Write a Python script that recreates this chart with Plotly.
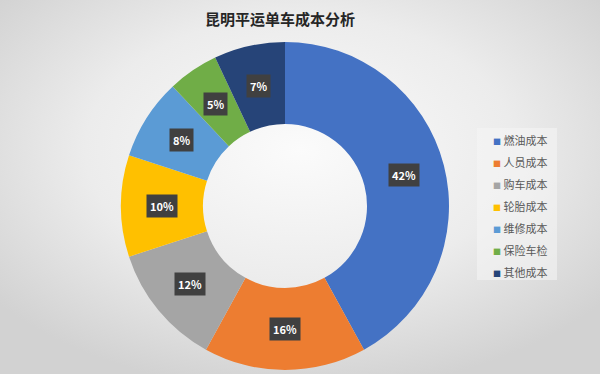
import math
import base64
import plotly.graph_objects as go

categories = ["燃油成本", "人员成本", "购车成本", "轮胎成本", "维修成本", "保险车检", "其他成本"]
values = [42, 16, 12, 10, 8, 5, 7]
colors = ["#4472C4", "#ED7D31", "#A5A5A5", "#FFC000", "#5B9BD5", "#70AD47", "#264478"]
title = "昆明平运单车成本分析"

W, H = 600, 374
cx_px, cy_px, R_px = 285, 206, 164
hole = 0.5
dom_x = [(cx_px - R_px) / W, (cx_px + R_px) / W]
dom_y = [1 - (cy_px + R_px) / H, 1 - (cy_px - R_px) / H]

svg = f'''<svg xmlns="http://www.w3.org/2000/svg" width="{W}" height="{H}">
<defs><radialGradient id="g" cx="50%" cy="40%" r="65%">
<stop offset="0%" stop-color="#fbfbfb"/><stop offset="55%" stop-color="#ececec"/><stop offset="100%" stop-color="#d2d2d2"/>
</radialGradient></defs><rect width="{W}" height="{H}" fill="url(#g)"/></svg>'''
bg_src = "data:image/svg+xml;base64," + base64.b64encode(svg.encode()).decode()

fig = go.Figure()
fig.add_trace(go.Pie(
    labels=categories, values=values, sort=False, direction="clockwise", rotation=0,
    hole=hole, marker=dict(colors=colors, line=dict(width=0)),
    textinfo="none", hoverinfo="label+percent",
    domain=dict(x=dom_x, y=dom_y), showlegend=False,
))

# legend entries (one per category, small square glyph right before the text)
for name, col in zip(categories, colors):
    fig.add_trace(go.Scatter(
        x=[None], y=[None], mode="markers", legendgroup=name,
        name=f"<span style='color:{col};font-size:8px'>■</span> {name}",
        marker=dict(symbol="square", size=1, color="rgba(0,0,0,0)"),
        showlegend=True, hoverinfo="skip",
    ))

# label callouts placed at slice midpoints (derived from the data)
total = sum(values)
r_lab = R_px * (1 + hole) / 2
cum = 0
annotations = []
for v in values:
    mid = (cum + v / 2) / total * 2 * math.pi
    cum += v
    x = (cx_px + r_lab * math.sin(mid)) / W
    y = 1 - (cy_px - r_lab * math.cos(mid)) / H
    annotations.append(dict(
        x=x, y=y, xref="paper", yref="paper", showarrow=False,
        xanchor="center", yanchor="middle",
        text=f"<b>{round(v / total * 100)}%</b>",
        font=dict(family="Noto Sans CJK SC", size=11, color="white"),
        bgcolor="#404040", borderpad=3,
    ))

fig.update_layout(
    width=W, height=H,
    margin=dict(l=0, r=0, t=0, b=0),
    paper_bgcolor="#e6e6e6", plot_bgcolor="rgba(0,0,0,0)",
    xaxis=dict(visible=False), yaxis=dict(visible=False),
    title=dict(text=f"<b>{title}</b>", x=280 / W, xanchor="center", y=1 - 20 / H, yanchor="middle",
               font=dict(family="Noto Sans CJK SC", size=15, color="#262626")),
    legend=dict(x=453 / W, y=1 - 126 / H, xanchor="left", yanchor="top",
                bgcolor="rgba(0,0,0,0)", borderwidth=0, traceorder="grouped", tracegroupgap=3,
                font=dict(family="Noto Sans CJK SC", size=11, color="#595959"),
                itemwidth=30),
    annotations=annotations,
    shapes=[dict(type="rect", xref="paper", yref="paper", x0=477 / W, x1=557 / W,
                 y0=1 - 280 / H, y1=1 - 128 / H, fillcolor="rgba(246,246,246,0.55)",
                 line=dict(width=0), layer="below")],
    images=[dict(source=bg_src, xref="paper", yref="paper", x=0, y=1, sizex=1, sizey=1,
                 xanchor="left", yanchor="top", sizing="stretch", layer="below")],
)

fig.write_html("out.html", config={"displayModeBar": False},
               post_script="document.body.style.margin='0';document.body.style.overflow='hidden';")
